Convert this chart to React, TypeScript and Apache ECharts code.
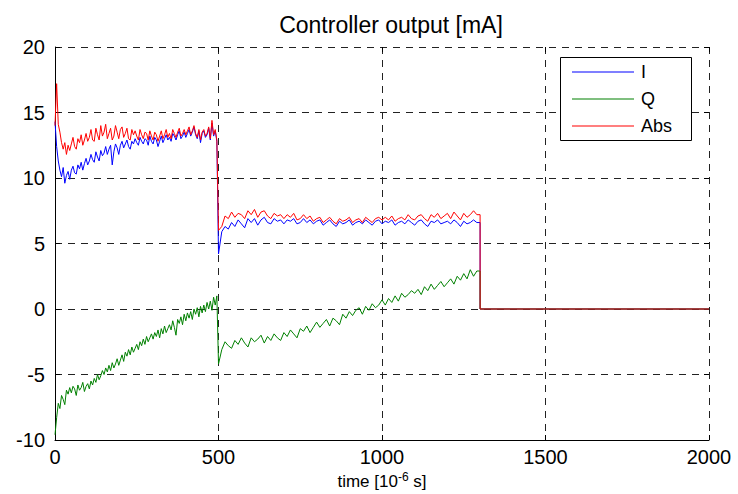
import React, { useEffect, useRef } from "react";
import * as echarts from "echarts";

const FONT = "'Liberation Sans', Arial, Helvetica, sans-serif";

const titleText = "Controller output [mA]";
const seriesNames = ["I", "Q", "Abs"];
const seriesColors = ["#0000ff", "#008000", "#ff0000"];

const xMin = 0;
const xMax = 2000;
const xInterval = 500;
const yMin = -10;
const yMax = 20;
const yInterval = 5;

// sampling of the two recorded segments (time in 10^-6 s)
const seg1Start = 0;
const seg1Step = 5;
const seg2Start = 500;
const seg2Step = 10;
const dropTime = 1300;
const endTime = 2000;
const offLevel = 0;

// segment 1: t = 0 .. 495, step 5
const seg1I = [
  14.3, 12.4, 11.3, 10.6, 10.1, 10.8, 9.6, 10.2, 10.5, 9.9,
  10.6, 10.9, 10.4, 10.3, 11.0, 10.7, 11.2, 10.6, 11.1, 11.5,
  11.0, 11.3, 11.8, 11.4, 11.2, 12.0, 11.6, 11.3, 12.1, 11.7,
  11.9, 12.4, 11.8, 12.2, 12.5, 11.0, 12.0, 12.6, 12.3, 11.8,
  12.5, 12.8, 12.3, 12.6, 12.9, 12.4, 12.2, 12.8, 12.6, 13.0,
  12.7, 12.5, 13.1, 12.8, 12.6, 13.0, 12.9, 12.5, 13.2, 12.8,
  12.6, 13.1, 12.9, 12.4, 12.8, 13.2, 12.7, 13.0, 13.3, 12.9,
  13.1, 12.8, 13.4, 13.2, 12.9, 13.3, 13.6, 13.0, 13.2, 13.5,
  13.1, 13.4, 13.7, 13.2, 13.5, 13.9, 13.3, 13.0, 13.6, 12.7,
  13.4, 13.6, 13.1, 13.3, 13.8, 12.9, 14.2, 13.2, 13.6, 12.8,
];
const seg1Q = [
  -9.6, -8.3, -7.2, -7.6, -6.6, -6.9, -7.3, -6.2, -6.5, -6.0,
  -6.4, -5.9, -6.1, -6.6, -5.8, -6.2, -6.0, -5.6, -6.3, -5.9,
  -5.7, -6.1, -5.5, -5.8, -5.3, -5.6, -5.0, -5.4, -5.1, -4.7,
  -5.0, -4.5, -4.8, -4.3, -4.7, -4.1, -4.5, -4.2, -3.8, -4.3,
  -3.9, -3.5, -4.0, -3.3, -3.6, -3.1, -3.5, -2.9, -3.3, -3.0,
  -2.7, -3.1, -2.5, -2.8, -2.3, -2.7, -2.1, -2.5, -2.2, -1.9,
  -2.3, -1.8, -2.1, -1.6, -2.2, -1.5, -1.9, -1.3, -1.8, -1.5,
  -1.2, -1.6, -0.9, -1.4, -2.0, -0.8, -1.1, -0.6, -1.2, -0.4,
  -0.9, -0.3, -0.7, -0.2, -0.8, 0.0, -0.4, 0.1, -0.6, 0.2,
  -0.3, 0.3, -0.2, 0.5, 0.0, 0.6, -0.1, 0.9, 0.3, 1.0,
];
const seg1Abs = [
  14.0, 17.2, 14.1, 13.5, 12.7, 12.2, 12.7, 11.8, 12.5, 12.1,
  12.6, 13.1, 12.4, 12.2, 13.0, 12.7, 13.3, 12.5, 12.9, 13.4,
  12.8, 13.1, 13.7, 12.9, 12.8, 13.8, 13.3, 12.9, 14.0, 13.2,
  13.5, 14.1, 13.0, 13.4, 13.8, 12.9, 13.2, 14.0, 13.5, 13.0,
  13.7, 13.9, 13.1, 13.4, 13.8, 13.0, 12.9, 13.7, 13.3, 13.6,
  13.2, 12.9, 13.7, 13.3, 13.0, 13.5, 13.4, 12.9, 13.6, 13.2,
  12.9, 13.5, 13.3, 12.8, 13.2, 13.6, 13.0, 13.3, 13.7, 13.1,
  13.4, 13.0, 13.7, 13.4, 13.1, 13.5, 13.8, 13.2, 13.4, 13.7,
  13.3, 13.6, 13.9, 13.3, 13.6, 14.0, 13.4, 13.1, 13.7, 12.9,
  13.5, 13.7, 13.2, 13.4, 13.9, 13.0, 14.4, 13.3, 13.7, 12.9,
];

// segment 2: t = 500 .. 1290, step 10
const seg2I = [
  4.2, 5.9, 6.3, 6.1, 6.6, 6.3, 6.8, 6.5, 6.2, 6.9,
  6.6, 6.9, 6.4, 6.8, 7.0, 6.6, 6.5, 6.9, 6.7, 6.8,
  6.5, 6.8, 6.7, 6.9, 6.5, 6.6, 6.9, 6.6, 6.8, 6.5,
  6.7, 6.8, 6.4, 6.6, 6.8, 6.5, 6.3, 6.7, 6.5, 6.6,
  6.8, 6.4, 6.6, 6.7, 6.5, 6.8, 6.6, 6.4, 6.7, 6.8,
  6.5, 6.7, 6.6, 6.8, 6.4, 6.6, 6.7, 6.5, 6.8, 6.6,
  6.4, 6.7, 6.8, 6.5, 6.3, 6.7, 6.6, 6.8, 6.5, 6.6,
  6.7, 6.5, 6.8, 6.6, 6.3, 6.7, 6.5, 6.6, 6.8, 6.6,
];
const seg2Q = [
  -4.2, -3.1, -2.5, -2.8, -3.0, -2.4, -2.7, -2.2, -2.6, -2.9,
  -2.2, -2.5, -2.3, -2.0, -2.6, -2.1, -2.4, -1.9, -2.2, -2.4,
  -1.8, -2.1, -1.6, -1.9, -2.2, -1.5, -1.7, -1.3, -1.8, -1.4,
  -1.0, -1.4, -1.1, -0.8, -1.3, -0.7, -0.9, -1.2, -0.4, -0.7,
  -0.2, -0.5, -0.1, 0.1, -0.4, 0.2, -0.1, 0.4, 0.1, 0.3,
  0.7, 0.3, 0.8, 0.5, 1.0, 0.6, 1.2, 0.9, 1.1, 1.4,
  1.2, 1.5, 1.1, 1.7, 1.4, 1.9, 1.5, 1.8, 2.1, 1.7,
  2.0, 2.3, 1.9, 2.5, 2.2, 2.7, 2.3, 3.0, 2.5, 2.9,
];
const seg2Abs = [
  6.0, 6.3, 7.1, 6.9, 7.4, 7.0, 7.3, 7.2, 6.9, 7.5,
  7.2, 7.6, 7.0, 7.4, 7.5, 7.1, 6.9, 7.3, 7.1, 7.2,
  6.9, 7.2, 7.0, 7.3, 6.8, 6.9, 7.2, 6.9, 7.1, 6.7,
  6.9, 7.0, 6.6, 6.8, 7.0, 6.7, 6.5, 6.9, 6.7, 6.8,
  7.0, 6.6, 6.8, 6.9, 6.6, 7.0, 6.8, 6.6, 6.9, 7.0,
  6.8, 7.0, 6.8, 7.1, 6.7, 6.9, 7.0, 6.8, 7.2, 6.9,
  6.8, 7.1, 7.2, 6.9, 6.7, 7.2, 7.0, 7.3, 6.9, 7.1,
  7.3, 6.9, 7.4, 7.1, 6.8, 7.3, 7.0, 7.2, 7.5, 7.2,
];

function buildSeries(s1: number[], s2: number[]): number[][] {
  const pts: number[][] = [];
  s1.forEach((v, i) => pts.push([seg1Start + i * seg1Step, v]));
  s2.forEach((v, i) => pts.push([seg2Start + i * seg2Step, v]));
  pts.push([dropTime, s2[s2.length - 1]]);
  pts.push([dropTime, offLevel]);
  pts.push([endTime, offLevel]);
  return pts;
}

const seriesData = [
  buildSeries(seg1I, seg2I),
  buildSeries(seg1Q, seg2Q),
  buildSeries(seg1Abs, seg2Abs),
];

export default function App() {
  const ref = useRef<HTMLDivElement>(null);

  useEffect(() => {
    if (!ref.current) return;
    const chart = echarts.init(ref.current, undefined, { renderer: "svg" });

    const gridLine = { show: true, lineStyle: { color: "#222", type: [7, 6] as any, width: 1 } };
    const tick = { show: true, inside: true, length: 5, lineStyle: { color: "#000" } };

    chart.setOption({
      animation: false,
      backgroundColor: "#ffffff",
      textStyle: { fontFamily: FONT },
      grid: { left: 55, right: 29, top: 47, bottom: 54, containLabel: false },
      xAxis: [
        {
          type: "value",
          min: xMin,
          max: xMax,
          interval: xInterval,
          axisLine: { show: true, onZero: false, lineStyle: { color: "#000", width: 1 } },
          axisTick: tick,
          axisLabel: {
            color: "#000",
            fontSize: 20,
            margin: 7,
            fontFamily: FONT,
            formatter: (v: number) => String(v),
          },
          splitLine: gridLine,
        },
        {
          type: "value",
          position: "top",
          min: xMin,
          max: xMax,
          interval: xInterval,
          axisLine: { show: false, onZero: false },
          axisTick: tick,
          axisLabel: { show: false },
          splitLine: { show: false },
        },
      ],
      yAxis: [
        {
          type: "value",
          min: yMin,
          max: yMax,
          interval: yInterval,
          axisLine: { show: true, onZero: false, lineStyle: { color: "#000", width: 1 } },
          axisTick: tick,
          axisLabel: {
            color: "#000",
            fontSize: 20,
            margin: 10,
            fontFamily: FONT,
            formatter: (v: number) => String(v),
          },
          splitLine: gridLine,
        },
        {
          type: "value",
          position: "right",
          min: yMin,
          max: yMax,
          interval: yInterval,
          axisLine: { show: false, onZero: false },
          axisTick: tick,
          axisLabel: { show: false },
          splitLine: { show: false },
        },
      ],
      legend: {
        data: seriesNames,
        orient: "vertical",
        left: 572,
        top: 62,
        icon: "rect",
        itemWidth: 62,
        itemHeight: 1,
        itemGap: 7,
        padding: 0,
        z: 20,
        textStyle: {
          fontSize: 18,
          color: "#000",
          fontFamily: FONT,
          lineHeight: 20,
          height: 20,
          padding: [0, 0, 0, 2],
        },
      },
      graphic: [
        {
          type: "rect",
          z: 10,
          shape: { x: 560.5, y: 57.5, width: 131, height: 83 },
          style: { fill: "#fff", stroke: "#000", lineWidth: 1 },
        },
        {
          type: "text",
          x: 391,
          y: 25,
          style: {
            text: titleText,
            font: `23px ${FONT}`,
            fill: "#000",
            align: "center",
            verticalAlign: "middle",
          },
        },
        {
          type: "text",
          x: 382,
          y: 481,
          style: {
            text: "{a|time [10}{b|-6}{a| s]}",
            align: "center",
            verticalAlign: "middle",
            rich: {
              a: { fontSize: 17, fontFamily: FONT, fill: "#000", lineHeight: 20, verticalAlign: "middle" },
              b: { fontSize: 12, fontFamily: FONT, fill: "#000", lineHeight: 6, verticalAlign: "top" },
            },
          },
        },
      ],
      series: seriesNames.map((name, i) => ({
        name,
        type: "line",
        data: seriesData[i],
        symbol: "none",
        showSymbol: false,
        color: seriesColors[i],
        lineStyle: { color: seriesColors[i], width: 1 },
        emphasis: { disabled: true },
        z: 2 + i,
      })),
    });

    return () => chart.dispose();
  }, []);

  return <div ref={ref} style={{ width: 738, height: 494, position: "absolute", left: 0, top: 0 }} />;
}
